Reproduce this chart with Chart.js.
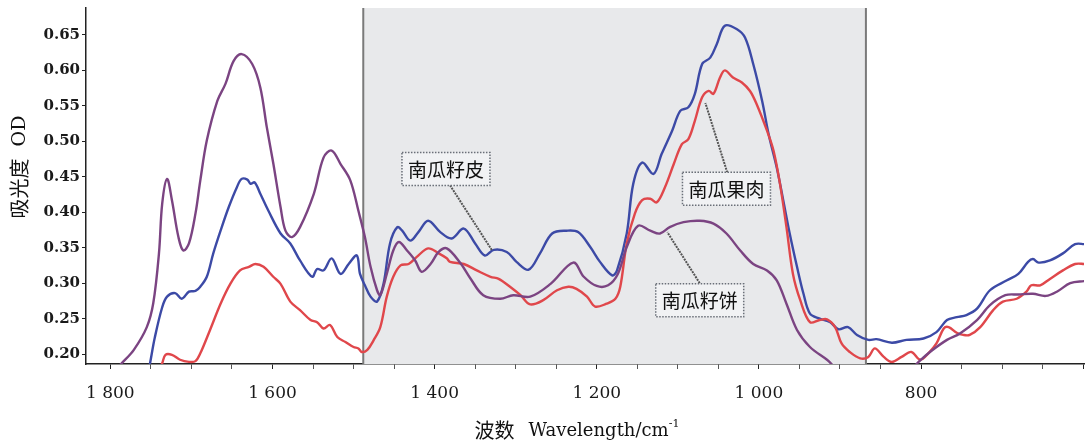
<!DOCTYPE html>
<html>
<head>
<meta charset="utf-8">
<script src="https://cdn.jsdelivr.net/npm/chart.js@4/dist/chart.umd.min.js"></script>
<style>
  html, body { margin: 0; padding: 0; background: #fff; }
  #wrap { width: 1089px; height: 444px; position: relative; }
</style>
</head>
<body>
<div id="wrap"><canvas id="chart"></canvas></div>
<script>
// 南瓜籽皮 (blue)
const seedSkinWn = [1753, 1751, 1745, 1736, 1730, 1720, 1712, 1703, 1695, 1689, 1681, 1673, 1664, 1654, 1644, 1638, 1631, 1627, 1622, 1615, 1605, 1590, 1578, 1566, 1551, 1545, 1537, 1527, 1516, 1506, 1496, 1492, 1486, 1479, 1471, 1463, 1455, 1446, 1440, 1430, 1420, 1408, 1393, 1379, 1364, 1350, 1338, 1327, 1311, 1299, 1284, 1270, 1255, 1237, 1223, 1208, 1196, 1181, 1175, 1163, 1155, 1144, 1130, 1120, 1107, 1097, 1087, 1079, 1070, 1060, 1052, 1042, 1027, 1017, 1007, 996, 988, 978, 970, 962, 953, 945, 937, 925, 912, 902, 890, 879, 865, 855, 836, 818, 797, 781, 768, 756, 744, 731, 715, 694, 680, 668, 662, 655, 641, 625, 610, 598];
const seedSkinOD = [0.175, 0.187, 0.224, 0.266, 0.281, 0.286, 0.278, 0.288, 0.289, 0.295, 0.309, 0.342, 0.374, 0.407, 0.435, 0.447, 0.446, 0.440, 0.442, 0.426, 0.402, 0.370, 0.356, 0.332, 0.309, 0.320, 0.318, 0.335, 0.313, 0.327, 0.339, 0.313, 0.297, 0.281, 0.274, 0.299, 0.356, 0.379, 0.374, 0.360, 0.372, 0.388, 0.372, 0.363, 0.377, 0.356, 0.339, 0.347, 0.344, 0.330, 0.319, 0.342, 0.370, 0.374, 0.372, 0.351, 0.330, 0.311, 0.318, 0.370, 0.440, 0.470, 0.454, 0.482, 0.515, 0.543, 0.548, 0.567, 0.609, 0.618, 0.637, 0.663, 0.658, 0.646, 0.609, 0.557, 0.510, 0.463, 0.417, 0.370, 0.323, 0.285, 0.257, 0.250, 0.245, 0.235, 0.238, 0.227, 0.220, 0.221, 0.216, 0.220, 0.222, 0.231, 0.248, 0.252, 0.255, 0.264, 0.290, 0.304, 0.313, 0.330, 0.334, 0.329, 0.332, 0.342, 0.355, 0.355];

// 南瓜果肉 (red)
const fleshWn = [1741, 1736, 1732, 1724, 1714, 1703, 1695, 1689, 1677, 1664, 1652, 1640, 1629, 1621, 1611, 1599, 1590, 1578, 1566, 1553, 1545, 1537, 1529, 1520, 1510, 1500, 1494, 1490, 1483, 1475, 1467, 1459, 1451, 1442, 1432, 1422, 1408, 1395, 1385, 1381, 1364, 1348, 1331, 1321, 1307, 1294, 1282, 1266, 1249, 1235, 1225, 1212, 1202, 1188, 1177, 1171, 1163, 1153, 1144, 1134, 1126, 1116, 1105, 1095, 1087, 1079, 1070, 1062, 1056, 1048, 1042, 1032, 1021, 1011, 1003, 990, 982, 974, 966, 958, 949, 937, 925, 916, 906, 898, 888, 875, 865, 857, 846, 836, 824, 812, 801, 791, 781, 772, 766, 756, 748, 740, 727, 711, 699, 682, 670, 664, 653, 641, 625, 610, 598];
const fleshOD = [0.175, 0.187, 0.199, 0.199, 0.192, 0.189, 0.190, 0.201, 0.234, 0.271, 0.299, 0.318, 0.323, 0.327, 0.323, 0.309, 0.299, 0.274, 0.262, 0.248, 0.245, 0.236, 0.241, 0.224, 0.217, 0.210, 0.208, 0.203, 0.206, 0.220, 0.238, 0.281, 0.309, 0.325, 0.327, 0.337, 0.349, 0.342, 0.335, 0.330, 0.327, 0.318, 0.309, 0.306, 0.295, 0.283, 0.270, 0.276, 0.290, 0.295, 0.292, 0.281, 0.267, 0.271, 0.278, 0.295, 0.356, 0.398, 0.417, 0.419, 0.414, 0.435, 0.468, 0.496, 0.503, 0.529, 0.562, 0.571, 0.567, 0.590, 0.600, 0.590, 0.583, 0.571, 0.553, 0.515, 0.487, 0.440, 0.379, 0.313, 0.276, 0.245, 0.248, 0.249, 0.238, 0.215, 0.203, 0.194, 0.196, 0.208, 0.196, 0.189, 0.196, 0.203, 0.192, 0.201, 0.215, 0.236, 0.238, 0.230, 0.227, 0.227, 0.238, 0.262, 0.274, 0.278, 0.288, 0.297, 0.297, 0.306, 0.318, 0.327, 0.327];

// 南瓜籽饼 (purple)
const seedCakeWn = [1794, 1786, 1771, 1755, 1747, 1740, 1736, 1730, 1724, 1716, 1710, 1703, 1695, 1689, 1681, 1668, 1658, 1648, 1638, 1625, 1615, 1607, 1599, 1590, 1584, 1576, 1566, 1549, 1537, 1527, 1516, 1504, 1494, 1486, 1479, 1471, 1467, 1459, 1451, 1444, 1434, 1424, 1416, 1405, 1395, 1385, 1368, 1356, 1340, 1319, 1303, 1282, 1257, 1229, 1216, 1200, 1186, 1174, 1163, 1149, 1134, 1122, 1110, 1093, 1073, 1056, 1040, 1023, 1007, 990, 978, 966, 953, 937, 916, 900, 851, 814, 803, 789, 768, 752, 731, 715, 696, 680, 662, 646, 631, 616, 598];
const seedCakeOD = [0.177, 0.187, 0.206, 0.238, 0.272, 0.342, 0.412, 0.447, 0.417, 0.365, 0.346, 0.356, 0.398, 0.445, 0.501, 0.557, 0.581, 0.613, 0.623, 0.609, 0.576, 0.520, 0.469, 0.407, 0.374, 0.365, 0.379, 0.426, 0.477, 0.487, 0.468, 0.445, 0.402, 0.365, 0.323, 0.290, 0.283, 0.313, 0.346, 0.358, 0.346, 0.332, 0.316, 0.327, 0.344, 0.349, 0.328, 0.307, 0.283, 0.278, 0.283, 0.281, 0.299, 0.329, 0.309, 0.296, 0.297, 0.313, 0.351, 0.381, 0.374, 0.370, 0.379, 0.386, 0.388, 0.384, 0.370, 0.346, 0.327, 0.318, 0.304, 0.271, 0.234, 0.210, 0.192, 0.177, 0.170, 0.177, 0.189, 0.203, 0.220, 0.229, 0.248, 0.269, 0.283, 0.284, 0.285, 0.282, 0.289, 0.300, 0.303];

const xRange = [599, 1830];
const yRange = [0.186, 0.688];
const labelledWn = [1800, 1600, 1400, 1200, 1000, 800];
const shadedBand = [1488, 868];

// label text, box centre [wn, OD], leader start [wn, OD], leader end [wn, OD]
const calloutText = ["南瓜籽皮", "南瓜果肉", "南瓜籽饼"];
const calloutBox = [[1386, 0.461], [1040, 0.433], [1073, 0.276]];
const calloutFrom = [[1381, 0.438], [1039, 0.456], [1073, 0.300]];
const calloutTo = [[1329, 0.346], [1066, 0.554], [1113, 0.372]];

const colors = { skin: "#3c4aa6", flesh: "#e0474b", cake: "#7b4482" };
const serif = "'DejaVu Serif', serif";
const cjk = "'Noto Sans CJK SC', sans-serif";

function toPoints(wn, od) {
  return wn.map((w, i) => ({ x: w, y: od[i] }));
}

function fmtWn(v) {
  if (v >= 1000) return Math.floor(v / 1000) + " " + String(v % 1000).padStart(3, "0");
  return String(v);
}

// drop the label overhang padding Chart.js reserves, the frame is fixed
function noPad(s) {
  s.paddingTop = 0;
  s.paddingBottom = 0;
  s.paddingLeft = 0;
  s.paddingRight = 0;
}

const overlay = {
  id: "overlay",
  beforeDatasetsDraw(chart) {
    const { ctx, chartArea: a, scales: { x } } = chart;
    const x1 = x.getPixelForValue(shadedBand[0]);
    const x2 = x.getPixelForValue(shadedBand[1]);
    ctx.save();
    ctx.fillStyle = "#e8e9eb";
    ctx.fillRect(x1, a.top, x2 - x1, a.bottom - a.top);
    ctx.strokeStyle = "#7a7a7a";
    ctx.lineWidth = 2;
    for (const px of [x1, x2]) {
      ctx.beginPath();
      ctx.moveTo(px, a.top);
      ctx.lineTo(px, a.bottom);
      ctx.stroke();
    }
    ctx.restore();
  },
  afterDatasetsDraw(chart) {
    const { ctx, scales: { x, y } } = chart;
    ctx.save();
    ctx.font = "19px " + cjk;
    ctx.textAlign = "center";
    ctx.textBaseline = "middle";
    calloutText.forEach((txt, i) => {
      const fx = x.getPixelForValue(calloutFrom[i][0]);
      const fy = y.getPixelForValue(calloutFrom[i][1]);
      const tx = x.getPixelForValue(calloutTo[i][0]);
      const ty = y.getPixelForValue(calloutTo[i][1]);
      ctx.strokeStyle = "#555";
      ctx.lineWidth = 2;
      ctx.setLineDash([2, 1]);
      ctx.beginPath();
      ctx.moveTo(fx, fy);
      ctx.lineTo(tx, ty);
      ctx.stroke();

      const cx = x.getPixelForValue(calloutBox[i][0]);
      const cy = y.getPixelForValue(calloutBox[i][1]);
      const w = ctx.measureText(txt).width + 12;
      const h = 33;
      ctx.fillStyle = "#f1f2f4";
      ctx.fillRect(cx - w / 2, cy - h / 2, w, h);
      ctx.strokeStyle = "#6a6f78";
      ctx.lineWidth = 1.5;
      ctx.setLineDash([1.5, 1.5]);
      ctx.strokeRect(cx - w / 2, cy - h / 2, w, h);
      ctx.setLineDash([]);
      ctx.fillStyle = "#111";
      ctx.fillText(txt, cx, cy + 1);
    });
    ctx.restore();
  },
  afterDraw(chart) {
    const { ctx } = chart;
    ctx.save();
    ctx.fillStyle = "#111";
    ctx.textBaseline = "middle";

    // y title
    ctx.translate(19, 167);
    ctx.rotate(-Math.PI / 2);
    ctx.font = "20px " + cjk;
    const t1 = "吸光度";
    const w1 = ctx.measureText(t1).width;
    ctx.font = "19px " + serif;
    const w2 = ctx.measureText("OD").width;
    const gap = 12;
    let sx = -(w1 + gap + w2) / 2;
    ctx.font = "20px " + cjk;
    ctx.textAlign = "left";
    ctx.fillText(t1, sx, 0);
    ctx.font = "19px " + serif;
    ctx.fillText("OD", sx + w1 + gap, 1);
    ctx.setTransform(1, 0, 0, 1, 0, 0);

    // x title
    ctx.font = "20px " + cjk;
    const a = "波数";
    const wa = ctx.measureText(a).width;
    ctx.font = "18px " + serif;
    const b = "Wavelength/cm";
    const wb = ctx.measureText(b).width;
    ctx.font = "11px " + serif;
    const c = "-1";
    const wc = ctx.measureText(c).width;
    const g = 14;
    let px = 577 - (wa + g + wb + wc) / 2;
    const py = 430;
    ctx.font = "20px " + cjk;
    ctx.fillText(a, px, py);
    ctx.font = "18px " + serif;
    ctx.fillText(b, px + wa + g, py + 1);
    ctx.font = "11px " + serif;
    ctx.fillText(c, px + wa + g + wb, py - 6);
    ctx.restore();
  }
};

const lineStyle = { borderWidth: 2.4, pointRadius: 0, tension: 0.35, fill: false };

new Chart(document.getElementById("chart"), {
  type: "line",
  data: {
    datasets: [
      { label: "南瓜籽饼", data: toPoints(seedCakeWn, seedCakeOD), borderColor: colors.cake, ...lineStyle },
      { label: "南瓜果肉", data: toPoints(fleshWn, fleshOD), borderColor: colors.flesh, ...lineStyle },
      { label: "南瓜籽皮", data: toPoints(seedSkinWn, seedSkinOD), borderColor: colors.skin, ...lineStyle },
    ],
  },
  options: {
    responsive: true,
    maintainAspectRatio: false,
    animation: false,
    layout: { autoPadding: false, padding: { top: 8, right: 5, left: 0, bottom: 0 } },
    plugins: { legend: { display: false }, tooltip: { enabled: false } },
    scales: {
      x: {
        type: "linear",
        reverse: true,
        min: xRange[0],
        max: xRange[1],
        z: 1,
        grid: {
          drawOnChartArea: false,
          drawTicks: true,
          tickLength: 5,
          tickColor: (c) => (c.tick && c.tick.value % 200 === 0 ? "#222" : "#555"),
        },
        border: { color: "#222", width: 1.5 },
        ticks: {
          stepSize: 50,
          includeBounds: false,
          autoSkip: false,
          maxRotation: 0,
          padding: 14,
          color: "#1a1a1a",
          font: { family: serif, size: 17 },
          callback: (v) => (labelledWn.includes(v) ? fmtWn(v) : ""),
        },
        afterFit: (s) => { s.height = 80; noPad(s); },
      },
      y: {
        min: yRange[0],
        max: yRange[1],
        z: 1,
        grid: {
          drawOnChartArea: false,
          drawTicks: true,
          tickLength: 4,
          tickColor: "#222",
        },
        border: { color: "#222", width: 1.5 },
        ticks: {
          stepSize: 0.05,
          includeBounds: false,
          padding: 2,
          color: "#1a1a1a",
          font: { family: serif, size: 15, weight: "bold" },
          callback: (v) => v.toFixed(2),
        },
        afterFit: (s) => { s.width = 86; noPad(s); },
      },
    },
  },
  plugins: [overlay],
});
</script>
</body>
</html>
